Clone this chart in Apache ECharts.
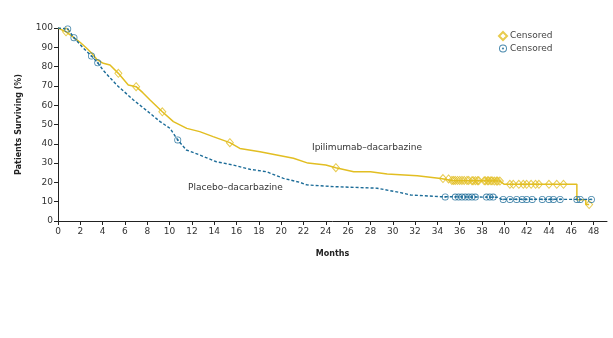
<!DOCTYPE html>
<html><head><meta charset="utf-8">
<script src="https://cdn.jsdelivr.net/npm/echarts@6/dist/echarts.min.js"></script>
<style>html,body{margin:0;padding:0;background:#fff}#c{width:613px;height:338px}</style>
</head><body><div id="c"></div>
<script>
var xTicks = [0,2,4,6,8,10,12,14,16,18,20,22,24,26,28,30,32,34,36,38,40,42,44,46,48];
var yTicks = [0,10,20,30,40,50,60,70,80,90,100];

var ipiMonths = [0,0.72,1.43,2.0,2.57,3.0,3.47,4.06,4.66,5.41,6.3,7.0,7.6,8.25,9.35,10.34,11.54,12.7,13.9,15.4,16.3,18.1,19.6,21.1,22.4,24.0,24.9,26.5,28,29.5,32.2,34.3,35.3,39.6,40.0,46.5,46.5,47.3,47.3,47.6];
var ipiSurv   = [100,98,95,92.5,89.5,87,83.8,81.7,80.8,76.5,70.5,69.6,66.5,62.7,56.6,51.5,48,46.3,43.7,40.6,37.6,35.9,34.2,32.5,30,29,27.6,25.5,25.5,24.4,23.5,22,21,20.7,19,19,11,11,8.5,8.5];

var plaMonths = [0,0.87,1.43,2.2,3.0,3.56,4.06,5.26,6.76,8.25,9.15,10.04,10.73,11.5,12.7,14.2,15.7,17.2,18.7,20.2,21.7,22.3,24.7,28.6,30.7,31.6,34.3,39.5,39.7,47.8];
var plaSurv   = [100,99.5,95,90,85.5,82,78,70.5,62.7,55.8,51.5,48,42,36.8,34.2,30.7,29,26.8,25.5,22.1,20,18.7,17.8,17,14.7,13.5,12.6,12.3,11.3,11.2];

var ipiCensMonths = [0.72,5.41,7.0,9.35,15.4,24.9,34.5,35.0,35.3,35.45,35.6,35.8,36.0,36.2,36.4,36.65,36.8,37.1,37.2,37.4,37.6,37.7,38.2,38.3,38.5,38.6,38.8,38.9,39.1,39.3,39.4,39.6,40.5,40.8,41.3,41.7,42.0,42.4,42.8,43.1,44.0,44.7,45.3,47.6];
var ipiCensSurv   = [98,76.5,69.6,56.6,40.6,27.6,22,21.8,21,21,21,21,21,21,21,21,21,20.9,20.9,20.9,20.9,20.9,20.8,20.8,20.8,20.8,20.8,20.8,20.7,20.7,20.7,20.7,19,19,19,19,19,19,19,19,19,19,19,8.5];

var plaCensMonths = [0.87,1.43,3.0,3.56,10.73,34.7,35.6,35.9,36.2,36.5,36.8,37.1,37.4,38.4,38.7,39.0,39.9,40.5,41.1,41.6,42.0,42.5,43.4,44.0,44.4,45.0,46.5,46.8,47.8];
var plaCensSurv   = [99.5,95,85.5,82,42,12.5,12.4,12.4,12.4,12.4,12.4,12.4,12.4,12.4,12.4,12.4,11.2,11.2,11.2,11.2,11.2,11.2,11.2,11.2,11.2,11.2,11.2,11.2,11.2];

function zip(a,b){return a.map(function(v,i){return [v,b[i]];});}

var YEL = '#E2BE22', BLU = '#1C6C98';
var FONT = 'DejaVu Sans';
var dotCircle = 'path://M5,0A5,5,0,1,1,-5,0A5,5,0,1,1,5,0ZM3.8,0A3.8,3.8,0,1,0,-3.8,0A3.8,3.8,0,1,0,3.8,0ZM1.4,0A1.4,1.4,0,1,1,-1.4,0A1.4,1.4,0,1,1,1.4,0Z';

var chart = echarts.init(document.getElementById('c'), null, {renderer:'canvas'});
chart.setOption({
  animation:false,
  backgroundColor:'#fff',
  grid:{left:58, top:28, right:6, bottom:117, containLabel:false},
  legend:{
    orient:'vertical', left:493, top:26, padding:[5,5,5,5], itemWidth:8, itemHeight:8, itemGap:3,
    textStyle:{fontFamily:FONT, fontSize:9, color:'#444', padding:[0,0,0,-2]},
    data:['censorIpi','censorPla'],
    formatter:function(){return 'Censored';}
  },
  xAxis:{
    type:'value', min:0, max:49.2, interval:2,
    name:'Months', nameLocation:'middle', nameGap:29,
    nameTextStyle:{fontFamily:FONT, fontSize:8, fontWeight:'bold', color:'#222'},
    axisLine:{show:true, lineStyle:{color:'#222', width:1}},
    axisTick:{show:true, length:4, lineStyle:{color:'#222'}, customValues:xTicks},
    axisLabel:{fontFamily:FONT, fontSize:9, color:'#333', margin:6, customValues:xTicks},
    splitLine:{show:false}
  },
  yAxis:{
    type:'value', min:0, max:100, interval:10,
    name:'Patients Surviving (%)', nameLocation:'middle', nameGap:35, nameRotate:90,
    nameTextStyle:{fontFamily:FONT, fontSize:8, fontWeight:'bold', color:'#222'},
    axisLine:{show:true, lineStyle:{color:'#222', width:1}},
    axisTick:{show:true, length:4, lineStyle:{color:'#222'}},
    axisLabel:{fontFamily:FONT, fontSize:9, color:'#333', margin:5, customValues:yTicks},
    splitLine:{show:false}
  },
  series:[
    {name:'Ipilimumab–dacarbazine', type:'line', data:zip(ipiMonths,ipiSurv), showSymbol:false, symbol:'none',
      lineStyle:{color:YEL, width:1.5}, z:3},
    {name:'Placebo–dacarbazine', type:'line', data:zip(plaMonths,plaSurv), showSymbol:false, symbol:'none',
      lineStyle:{color:BLU, width:1.4, type:[3,2]}, z:3},
    {name:'censorIpi', type:'scatter', data:zip(ipiCensMonths,ipiCensSurv), symbol:'diamond', symbolSize:[7,8],
      itemStyle:{color:'rgba(255,255,255,0)', borderColor:YEL, borderWidth:1}, z:4},
    {name:'censorPla', type:'scatter', data:zip(plaCensMonths,plaCensSurv), symbol:dotCircle, symbolSize:7,
      itemStyle:{color:BLU}, z:5}
  ],
  graphic:[
    {type:'text', left:312, top:143, style:{text:'Ipilimumab–dacarbazine', fontFamily:FONT, fontSize:9, fill:'#333'}},
    {type:'text', left:188, top:183, style:{text:'Placebo–dacarbazine', fontFamily:FONT, fontSize:9, fill:'#333'}}
  ]
});
</script></body></html>
